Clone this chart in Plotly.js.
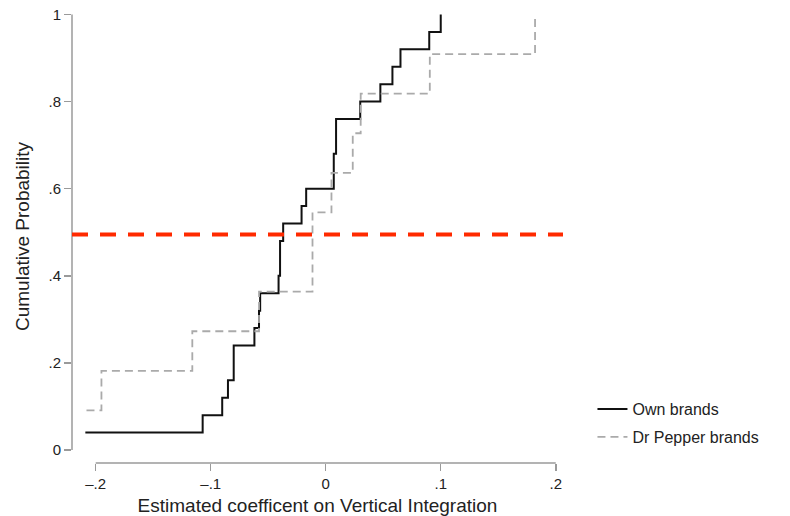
<!DOCTYPE html>
<html>
<head>
<meta charset="utf-8">
<script src="https://cdn.plot.ly/plotly-3.0.1.min.js"></script>
<style>html,body{margin:0;padding:0;background:#fff;}#chart{width:790px;height:516px;}</style>
</head>
<body>
<div id="chart"></div>
<script>
// Own brands empirical CDF (n = 25)
const ownX = [-0.209, -0.107, -0.090, -0.085, -0.080, -0.062, -0.058, -0.057, -0.041, -0.0397, -0.037, -0.021, -0.017, 0.007, 0.009, 0.030, 0.0475, 0.058, 0.065, 0.090, 0.100];
const ownY = [0.04, 0.08, 0.12, 0.16, 0.24, 0.28, 0.32, 0.36, 0.40, 0.48, 0.52, 0.56, 0.60, 0.68, 0.76, 0.80, 0.84, 0.88, 0.92, 0.96, 1.00];
// Dr Pepper brands empirical CDF (n = 11)
const drpX = [-0.208, -0.195, -0.116, -0.058, -0.0115, 0.005, 0.0235, 0.0304, 0.0905, 0.182];
const drpY = [0.0909, 0.1818, 0.2727, 0.3636, 0.5455, 0.6364, 0.7273, 0.8182, 0.9091, 1.0];
// Reference level (red dashed)
const refLevel = 0.495;

const xTickVals = [-0.2, -0.1, 0, 0.1, 0.2];
const xTickText = ["\u2013.2", "\u2013.1", "0", ".1", ".2"];
const yTickVals = [0, 0.2, 0.4, 0.6, 0.8, 1];
const yTickText = ["0", ".2", ".4", ".6", ".8", "1"];

const FONT = "Liberation Sans, Arial, Helvetica, sans-serif";
const AXIS_GRAY = "#9a9a9a";

const traces = [
  {x: ownX, y: ownY, type: "scatter", mode: "lines", name: "Own brands", legendgroup: "own",
   line: {shape: "hv", color: "#111111", width: 2}},
  {x: drpX, y: drpY, type: "scatter", mode: "lines", name: "Dr Pepper brands", legendgroup: "drp",
   line: {shape: "hv", color: "#aaaaaa", width: 1.8, dash: "8px,5px"}}
];

const layout = {
  width: 790, height: 516,
  margin: {l: 72, r: 227, t: 10, b: 53},
  paper_bgcolor: "#ffffff", plot_bgcolor: "#ffffff",
  font: {family: FONT, color: "#222222", size: 15},
  showlegend: true,
  legend: {x: 1.06, y: 0.088, xanchor: "left", yanchor: "middle",
           font: {family: FONT, size: 16, color: "#222222"},
           bgcolor: "rgba(0,0,0,0)", borderwidth: 0, tracegroupgap: 4},
  xaxis: {range: [-0.2206, 0.2063], showgrid: false, zeroline: false, showline: false,
          tickvals: xTickVals, ticktext: xTickText, ticks: "outside", ticklen: 7,
          tickcolor: AXIS_GRAY, tickwidth: 1.5,
          tickfont: {family: FONT, size: 15, color: "#222222"},
          title: {text: "Estimated coefficent on Vertical Integration",
                  font: {family: FONT, size: 19, color: "#222222"}, standoff: 7}},
  yaxis: {range: [-0.0298, 1.0103], showgrid: false, zeroline: false, showline: false,
          tickvals: yTickVals, ticktext: yTickText, ticks: "outside", ticklen: 7,
          tickcolor: AXIS_GRAY, tickwidth: 1.5,
          tickfont: {family: FONT, size: 15, color: "#222222"},
          title: {text: "Cumulative Probability",
                  font: {family: FONT, size: 19, color: "#222222"}, standoff: 13}},
  shapes: [
    {type: "line", xref: "x", yref: "paper", x0: xTickVals[0], x1: xTickVals[xTickVals.length - 1], y0: 0, y1: 0,
     line: {color: AXIS_GRAY, width: 1.5}, layer: "below"},
    {type: "line", xref: "paper", yref: "y", x0: 0, x1: 0, y0: yTickVals[0], y1: yTickVals[yTickVals.length - 1],
     line: {color: AXIS_GRAY, width: 1.5}, layer: "below"},
    {type: "line", xref: "paper", yref: "y", x0: 0, x1: 1, y0: refLevel, y1: refLevel,
     line: {color: "#ff2a00", width: 4, dash: "16px,12px"}, layer: "above"}
  ]
};

Plotly.newPlot("chart", traces, layout, {displayModeBar: false, staticPlot: true});
</script>
</body>
</html>
